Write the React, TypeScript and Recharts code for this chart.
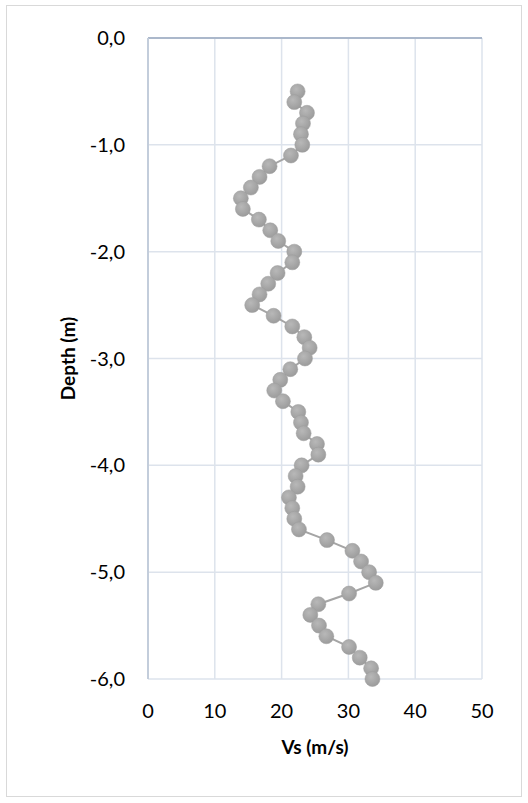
import React from "react"
import { ScatterChart, Scatter, XAxis, YAxis, CartesianGrid, ReferenceLine, Label } from "recharts"

// depth (m) and Vs (m/s) read from the profile
const depths = [
  -0.5, -0.6, -0.7, -0.8, -0.9, -1.0, -1.1, -1.2, -1.3, -1.4, -1.5, -1.6, -1.7, -1.8, -1.9, -2.0,
  -2.1, -2.2, -2.3, -2.4, -2.5, -2.6, -2.7, -2.8, -2.9, -3.0, -3.1, -3.2, -3.3, -3.4, -3.5, -3.6,
  -3.7, -3.8, -3.9, -4.0, -4.1, -4.2, -4.3, -4.4, -4.5, -4.6, -4.7, -4.8, -4.9, -5.0, -5.1, -5.2,
  -5.3, -5.4, -5.5, -5.6, -5.7, -5.8, -5.9, -6.0,
]
const vsValues = [
  22.4, 21.9, 23.8, 23.2, 22.9, 23.1, 21.4, 18.2, 16.7, 15.4, 13.9, 14.2, 16.6, 18.3, 19.5, 21.9,
  21.6, 19.4, 18.0, 16.7, 15.6, 18.8, 21.6, 23.4, 24.2, 23.5, 21.3, 19.8, 18.9, 20.2, 22.5, 22.9,
  23.3, 25.3, 25.5, 23.0, 22.1, 22.4, 21.1, 21.6, 21.9, 22.6, 26.8, 30.6, 31.9, 33.1, 34.1, 30.1,
  25.5, 24.3, 25.6, 26.7, 30.1, 31.7, 33.4, 33.6,
]
const xTicks = [0, 10, 20, 30, 40, 50]
const yTicks = [-6, -5, -4, -3, -2, -1, 0]

const data = depths.map((d, i) => ({ vs: vsValues[i], depth: d }))

const font = "Lato, 'Open Sans', sans-serif"
const fmt = (v: number) => v.toFixed(1).replace(".", ",")

const Dot = (props: any) => (
  <circle cx={props.cx} cy={props.cy} r={7.5} fill="url(#dotFill)" stroke="#9c9c9c" strokeWidth={0.5} />
)

export default function App() {
  return (
    <div
      style={{
        position: "absolute",
        left: 6,
        top: 5,
        width: 514,
        height: 790,
        border: "1px solid #d9d9d9",
        background: "#fff",
      }}
    >
      <ScatterChart width={514} height={790} margin={{ top: 32, right: 39, bottom: 87, left: 81 }}>
        <defs>
          <radialGradient id="dotFill" cx="40%" cy="35%" r="70%">
            <stop offset="0%" stopColor="#b8b8b8" />
            <stop offset="100%" stopColor="#9a9a9a" />
          </radialGradient>
        </defs>
        <CartesianGrid stroke="#dde3ec" strokeWidth={1.5} />
        <XAxis
          type="number"
          dataKey="vs"
          domain={[0, 50]}
          ticks={xTicks}
          height={30}
          axisLine={false}
          tickLine={false}
          tickMargin={19}
          tick={{ fill: "#000", fontSize: 20, fontFamily: font }}
        >
          <Label
            value="Vs (m/s)"
            position="bottom"
            offset={32}
            style={{ fill: "#000", fontSize: 19, fontWeight: 700, fontFamily: font }}
          />
        </XAxis>
        <YAxis
          type="number"
          dataKey="depth"
          domain={[-6, 0]}
          ticks={yTicks}
          width={60}
          axisLine={false}
          tickLine={false}
          tickMargin={17}
          tickFormatter={fmt}
          tick={{ fill: "#000", fontSize: 20, fontFamily: font }}
        >
          <Label
            value="Depth (m)"
            angle={-90}
            position="insideLeft"
            offset={-20}
            style={{ fill: "#000", fontSize: 19, fontWeight: 700, fontFamily: font, textAnchor: "middle" }}
          />
        </YAxis>
        <ReferenceLine y={0} stroke="#abb8cb" strokeWidth={2} />
        <ReferenceLine x={0} stroke="#c3cddb" strokeWidth={2} />
        <Scatter
          data={data}
          line={{ stroke: "#a5a5a5", strokeWidth: 2 }}
          shape={<Dot />}
          isAnimationActive={false}
        />
      </ScatterChart>
    </div>
  )
}
